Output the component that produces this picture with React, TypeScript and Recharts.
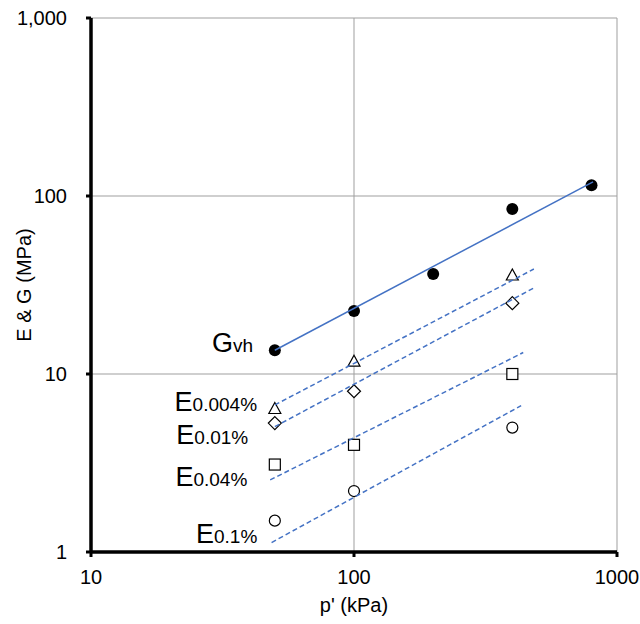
import { ScatterChart, Scatter, XAxis, YAxis, CartesianGrid, Label } from "recharts";

// measured moduli vs mean effective stress p'
const pressureG = [50, 100, 200, 400, 800];
const shearGvh = [13.6, 22.6, 36.5, 84.5, 115];

const pressureE = [50, 100, 400];
const youngE0004 = [6.4, 11.8, 36];
const youngE001 = [5.3, 8.0, 25];
const youngE004 = [3.1, 4.0, 10];
const youngE01 = [1.5, 2.2, 5.0];

// power-law trend lines (end points)
const fitGvhX = [50, 811];
const fitGvhY = [13.6, 120];
const fitE0004X = [50, 483];
const fitE0004Y = [6.7, 38.9];
const fitE001X = [50, 488];
const fitE001Y = [5.06, 30.7];
const fitE004X = [48, 440];
const fitE004Y = [2.54, 13.2];
const fitE01X = [48.6, 432];
const fitE01Y = [1.13, 6.64];

const xTicks = [10, 100, 1000];
const yTicks = [1, 10, 100, 1000];

// series names: anchored at end of text / baseline
const labelMain = ["G", "E", "E", "E", "E"];
const labelSub = ["vh", "0.004%", "0.01%", "0.04%", "0.1%"];
const labelX = [41.3, 42.8, 39.6, 39.3, 42.9];
const labelY = [13.3, 6.2, 4.03, 2.36, 1.13];

const FONT = "'Liberation Sans', Arial, sans-serif";
const BLUE = "#4472C4";
const TEXT = { fontSize: 20, fill: "#000", fontFamily: FONT };

const pts = (xs: number[], ys: number[]) => xs.map((x, i) => ({ x, y: ys[i] }));

const labels = labelMain.map((main, i) => ({ x: labelX[i], y: labelY[i], main, sub: labelSub[i] }));

const FilledCircle = (p: any) => <circle cx={p.cx} cy={p.cy} r={6} fill="#000" />;
const OpenCircle = (p: any) => (
  <circle cx={p.cx} cy={p.cy} r={5.5} fill="#fff" stroke="#000" strokeWidth={1.2} />
);
const OpenSquare = (p: any) => (
  <rect x={p.cx - 5.5} y={p.cy - 5.5} width={11} height={11} fill="#fff" stroke="#000" strokeWidth={1.2} />
);
const OpenDiamond = (p: any) => (
  <path
    d={`M${p.cx},${p.cy - 6.5}L${p.cx + 6.5},${p.cy}L${p.cx},${p.cy + 6.5}L${p.cx - 6.5},${p.cy}Z`}
    fill="#fff"
    stroke="#000"
    strokeWidth={1.2}
  />
);
const OpenTriangle = (p: any) => (
  <path
    d={`M${p.cx},${p.cy - 6}L${p.cx + 6},${p.cy + 5}L${p.cx - 6},${p.cy + 5}Z`}
    fill="#fff"
    stroke="#000"
    strokeWidth={1.2}
  />
);
const NoMark = () => <g />;

const SeriesName = (p: any) => (
  <text x={p.cx} y={p.cy} textAnchor="end" fontFamily={FONT} fill="#000">
    <tspan fontSize={27}>{p.payload.main}</tspan>
    <tspan fontSize={19}>{p.payload.sub}</tspan>
  </text>
);

const dashed = { stroke: BLUE, strokeWidth: 1.5, strokeDasharray: "5 3" };
const solid = { stroke: BLUE, strokeWidth: 1.5 };

export default function App() {
  return (
    <div style={{ position: "absolute", left: 0, top: 0, fontFamily: FONT }}>
      <ScatterChart width={640} height={624} margin={{ top: 18, right: 23, bottom: 0, left: 0 }}>
        <CartesianGrid stroke="#9f9f9f" strokeWidth={1} />
        <XAxis
          type="number"
          dataKey="x"
          scale="log"
          domain={[10, 1000]}
          ticks={xTicks}
          allowDataOverflow
          height={72}
          tickSize={5}
          tickMargin={13}
          axisLine={{ stroke: "#000", strokeWidth: 3.5 }}
          tickLine={{ stroke: "#000", strokeWidth: 3 }}
          tick={TEXT}
        >
          <Label value="p' (kPa)" position="insideBottom" offset={12} style={TEXT} />
        </XAxis>
        <YAxis
          type="number"
          dataKey="y"
          scale="log"
          domain={[1, 1000]}
          ticks={yTicks}
          allowDataOverflow
          width={91}
          tickSize={5}
          tickMargin={19}
          tickFormatter={(v: number) => v.toLocaleString("en-US")}
          axisLine={{ stroke: "#000", strokeWidth: 3.5 }}
          tickLine={{ stroke: "#000", strokeWidth: 3 }}
          tick={TEXT}
        >
          <Label
            value="E & G (MPa)"
            angle={-90}
            position="insideLeft"
            offset={24}
            style={{ ...TEXT, textAnchor: "middle" }}
          />
        </YAxis>

        <Scatter data={pts(pressureG, shearGvh)} shape={FilledCircle} isAnimationActive={false} />
        <Scatter data={pts(pressureE, youngE0004)} shape={OpenTriangle} isAnimationActive={false} />
        <Scatter data={pts(pressureE, youngE001)} shape={OpenDiamond} isAnimationActive={false} />
        <Scatter data={pts(pressureE, youngE004)} shape={OpenSquare} isAnimationActive={false} />
        <Scatter data={pts(pressureE, youngE01)} shape={OpenCircle} isAnimationActive={false} />

        <Scatter data={pts(fitGvhX, fitGvhY)} line={solid} shape={NoMark} isAnimationActive={false} />
        <Scatter data={pts(fitE0004X, fitE0004Y)} line={dashed} shape={NoMark} isAnimationActive={false} />
        <Scatter data={pts(fitE001X, fitE001Y)} line={dashed} shape={NoMark} isAnimationActive={false} />
        <Scatter data={pts(fitE004X, fitE004Y)} line={dashed} shape={NoMark} isAnimationActive={false} />
        <Scatter data={pts(fitE01X, fitE01Y)} line={dashed} shape={NoMark} isAnimationActive={false} />

        <Scatter data={labels} shape={SeriesName} isAnimationActive={false} />
      </ScatterChart>
    </div>
  );
}
